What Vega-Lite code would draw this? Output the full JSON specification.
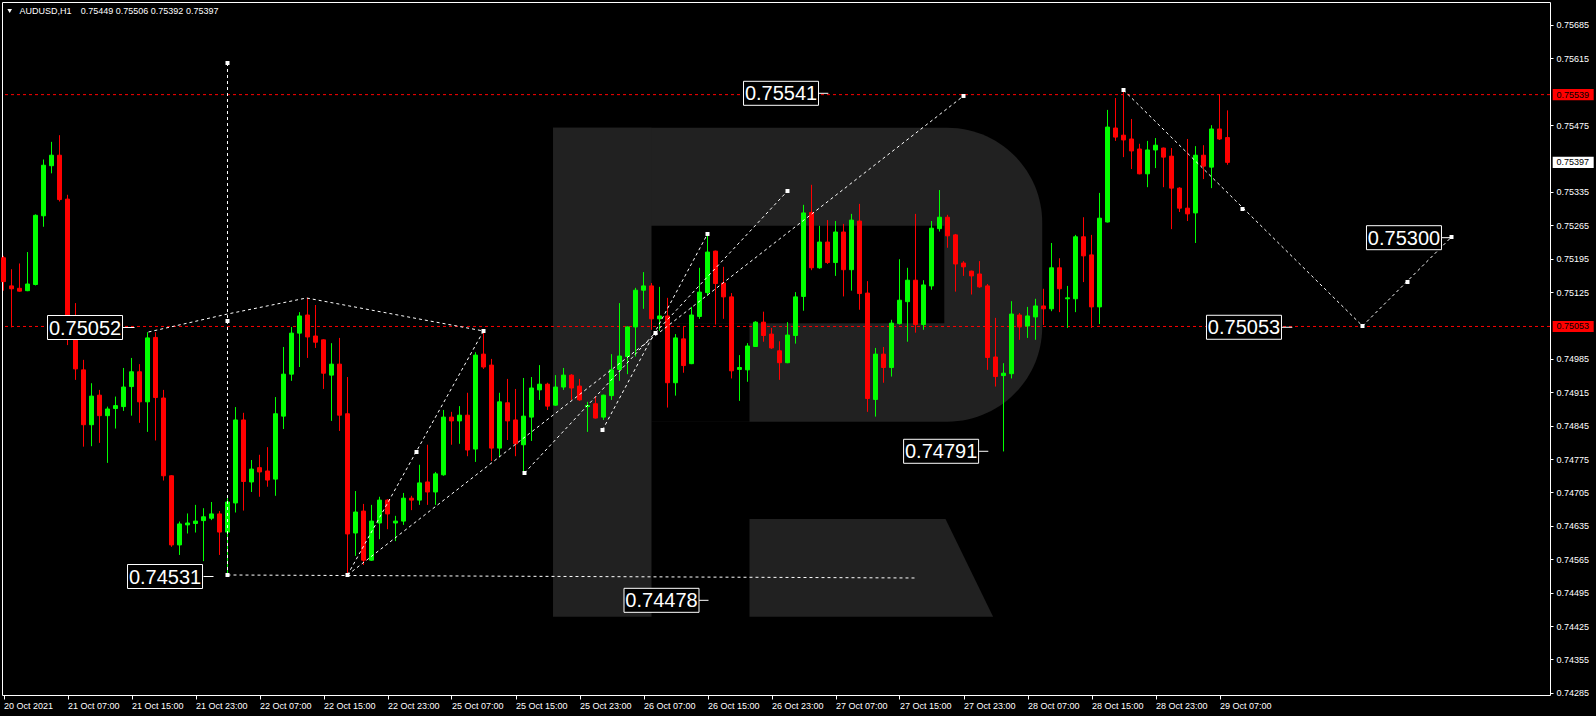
{
"$schema": "https://vega.github.io/schema/vega-lite/v6.json",
"width": 1548, "height": 693,
"autosize": {"type": "none"},
"padding": {"left": 2, "top": 2, "right": 46, "bottom": 21},
"background": "#000000",
"config": {"view": {"stroke": "#ffffff", "strokeWidth": 1, "fill": "#000000"}, "axis": {"grid": false, "domain": false}, "scale": {"continuousPadding": 0}},
"datasets": {
"candles": [
{"i":0,"o":0.75197,"h":0.75201,"l":0.75128,"c":0.75147},
{"i":1,"o":0.75138,"h":0.75173,"l":0.75051,"c":0.75132},
{"i":2,"o":0.75133,"h":0.75185,"l":0.75126,"c":0.75127},
{"i":3,"o":0.75128,"h":0.75209,"l":0.75127,"c":0.75142},
{"i":4,"o":0.75141,"h":0.75288,"l":0.75139,"c":0.75286},
{"i":5,"o":0.75285,"h":0.75403,"l":0.75262,"c":0.75391},
{"i":6,"o":0.75390,"h":0.75440,"l":0.75374,"c":0.75412},
{"i":7,"o":0.75412,"h":0.75454,"l":0.75315,"c":0.75319},
{"i":8,"o":0.75320,"h":0.75329,"l":0.75014,"c":0.75069},
{"i":9,"o":0.75071,"h":0.75102,"l":0.74941,"c":0.74964},
{"i":10,"o":0.74962,"h":0.74983,"l":0.74801,"c":0.74847},
{"i":11,"o":0.74847,"h":0.74934,"l":0.74802,"c":0.74907},
{"i":12,"o":0.74909,"h":0.74920,"l":0.74809,"c":0.74866},
{"i":13,"o":0.74866,"h":0.74885,"l":0.74767,"c":0.74880},
{"i":14,"o":0.74881,"h":0.74906,"l":0.74839,"c":0.74887},
{"i":15,"o":0.74885,"h":0.74966,"l":0.74876,"c":0.74926},
{"i":16,"o":0.74927,"h":0.74987,"l":0.74866,"c":0.74958},
{"i":17,"o":0.74958,"h":0.74974,"l":0.74851,"c":0.74895},
{"i":18,"o":0.74895,"h":0.75041,"l":0.74832,"c":0.75029},
{"i":19,"o":0.75030,"h":0.75041,"l":0.74814,"c":0.74904},
{"i":20,"o":0.74903,"h":0.74920,"l":0.74730,"c":0.74740},
{"i":21,"o":0.74740,"h":0.74741,"l":0.74591,"c":0.74595},
{"i":22,"o":0.74595,"h":0.74644,"l":0.74574,"c":0.74639},
{"i":23,"o":0.74637,"h":0.74661,"l":0.74619,"c":0.74641},
{"i":24,"o":0.74640,"h":0.74679,"l":0.74621,"c":0.74645},
{"i":25,"o":0.74646,"h":0.74672,"l":0.74561,"c":0.74654},
{"i":26,"o":0.74651,"h":0.74685,"l":0.74647,"c":0.74660},
{"i":27,"o":0.74660,"h":0.74666,"l":0.74574,"c":0.74622},
{"i":28,"o":0.74622,"h":0.74693,"l":0.74531,"c":0.74685},
{"i":29,"o":0.74683,"h":0.74884,"l":0.74663,"c":0.74857},
{"i":30,"o":0.74857,"h":0.74872,"l":0.74667,"c":0.74728},
{"i":31,"o":0.74727,"h":0.74773,"l":0.74706,"c":0.74754},
{"i":32,"o":0.74757,"h":0.74784,"l":0.74696,"c":0.74748},
{"i":33,"o":0.74750,"h":0.74800,"l":0.74717,"c":0.74731},
{"i":34,"o":0.74733,"h":0.74905,"l":0.74698,"c":0.74870},
{"i":35,"o":0.74865,"h":0.75010,"l":0.74838,"c":0.74953},
{"i":36,"o":0.74953,"h":0.75052,"l":0.74939,"c":0.75039},
{"i":37,"o":0.75039,"h":0.75083,"l":0.74968,"c":0.75075},
{"i":38,"o":0.75077,"h":0.75113,"l":0.74987,"c":0.75031},
{"i":39,"o":0.75033,"h":0.75098,"l":0.75008,"c":0.75020},
{"i":40,"o":0.75025,"h":0.75026,"l":0.74922,"c":0.74955},
{"i":41,"o":0.74951,"h":0.75018,"l":0.74855,"c":0.74974},
{"i":42,"o":0.74974,"h":0.75029,"l":0.74834,"c":0.74867},
{"i":43,"o":0.74870,"h":0.74947,"l":0.74534,"c":0.74618},
{"i":44,"o":0.74620,"h":0.74708,"l":0.74572,"c":0.74664},
{"i":45,"o":0.74666,"h":0.74681,"l":0.74553,"c":0.74563},
{"i":46,"o":0.74563,"h":0.74679,"l":0.74562,"c":0.74645},
{"i":47,"o":0.74641,"h":0.74696,"l":0.74607,"c":0.74689},
{"i":48,"o":0.74689,"h":0.74691,"l":0.74628,"c":0.74660},
{"i":49,"o":0.74641,"h":0.74656,"l":0.74603,"c":0.74645},
{"i":50,"o":0.74645,"h":0.74704,"l":0.74637,"c":0.74693},
{"i":51,"o":0.74693,"h":0.74698,"l":0.74668,"c":0.74689},
{"i":52,"o":0.74689,"h":0.74763,"l":0.74679,"c":0.74725},
{"i":53,"o":0.74727,"h":0.74805,"l":0.74679,"c":0.74706},
{"i":54,"o":0.74706,"h":0.74748,"l":0.74679,"c":0.74744},
{"i":55,"o":0.74742,"h":0.74878,"l":0.74740,"c":0.74863},
{"i":56,"o":0.74863,"h":0.74874,"l":0.74805,"c":0.74855},
{"i":57,"o":0.74855,"h":0.74886,"l":0.74807,"c":0.74867},
{"i":58,"o":0.74867,"h":0.74914,"l":0.74781,"c":0.74794},
{"i":59,"o":0.74796,"h":0.74999,"l":0.74769,"c":0.74993},
{"i":60,"o":0.74995,"h":0.75041,"l":0.74964,"c":0.74968},
{"i":61,"o":0.74972,"h":0.74985,"l":0.74771,"c":0.74798},
{"i":62,"o":0.74798,"h":0.74914,"l":0.74779,"c":0.74895},
{"i":63,"o":0.74893,"h":0.74943,"l":0.74815,"c":0.74855},
{"i":64,"o":0.74857,"h":0.74922,"l":0.74781,"c":0.74807},
{"i":65,"o":0.74805,"h":0.74945,"l":0.74748,"c":0.74865},
{"i":66,"o":0.74863,"h":0.74947,"l":0.74813,"c":0.74924},
{"i":67,"o":0.74920,"h":0.74972,"l":0.74899,"c":0.74932},
{"i":68,"o":0.74932,"h":0.74935,"l":0.74878,"c":0.74886},
{"i":69,"o":0.74888,"h":0.74951,"l":0.74887,"c":0.74926},
{"i":70,"o":0.74926,"h":0.74966,"l":0.74920,"c":0.74951},
{"i":71,"o":0.74951,"h":0.74953,"l":0.74899,"c":0.74924},
{"i":72,"o":0.74928,"h":0.74943,"l":0.74897,"c":0.74899},
{"i":73,"o":0.74885,"h":0.74895,"l":0.74832,"c":0.74887},
{"i":74,"o":0.74891,"h":0.74907,"l":0.74860,"c":0.74861},
{"i":75,"o":0.74863,"h":0.74910,"l":0.74857,"c":0.74909},
{"i":76,"o":0.74908,"h":0.74995,"l":0.74899,"c":0.74962},
{"i":77,"o":0.74963,"h":0.75102,"l":0.74939,"c":0.74991},
{"i":78,"o":0.74990,"h":0.75053,"l":0.74953,"c":0.75052},
{"i":79,"o":0.75052,"h":0.75134,"l":0.74990,"c":0.75129},
{"i":80,"o":0.75129,"h":0.75167,"l":0.75090,"c":0.75138},
{"i":81,"o":0.75138,"h":0.75144,"l":0.75046,"c":0.75069},
{"i":82,"o":0.75069,"h":0.75136,"l":0.75044,"c":0.75075},
{"i":83,"o":0.75075,"h":0.75113,"l":0.74883,"c":0.74935},
{"i":84,"o":0.74935,"h":0.75037,"l":0.74908,"c":0.75029},
{"i":85,"o":0.75027,"h":0.75052,"l":0.74956,"c":0.74971},
{"i":86,"o":0.74975,"h":0.75094,"l":0.74974,"c":0.75077},
{"i":87,"o":0.75074,"h":0.75176,"l":0.75069,"c":0.75125},
{"i":88,"o":0.75124,"h":0.75243,"l":0.75117,"c":0.75209},
{"i":89,"o":0.75211,"h":0.75212,"l":0.75057,"c":0.75143},
{"i":90,"o":0.75144,"h":0.75178,"l":0.75069,"c":0.75115},
{"i":91,"o":0.75115,"h":0.75123,"l":0.74944,"c":0.74960},
{"i":92,"o":0.74963,"h":0.74993,"l":0.74897,"c":0.74967},
{"i":93,"o":0.74962,"h":0.75018,"l":0.74937,"c":0.75012},
{"i":94,"o":0.75011,"h":0.75064,"l":0.75010,"c":0.75062},
{"i":95,"o":0.75062,"h":0.75084,"l":0.75021,"c":0.75034},
{"i":96,"o":0.75037,"h":0.75050,"l":0.75006,"c":0.75008},
{"i":97,"o":0.75002,"h":0.75022,"l":0.74941,"c":0.74977},
{"i":98,"o":0.74977,"h":0.75062,"l":0.74976,"c":0.75035},
{"i":99,"o":0.75034,"h":0.75125,"l":0.75017,"c":0.75115},
{"i":100,"o":0.75116,"h":0.75308,"l":0.75086,"c":0.75291},
{"i":101,"o":0.75292,"h":0.75350,"l":0.75171,"c":0.75176},
{"i":102,"o":0.75176,"h":0.75264,"l":0.75174,"c":0.75230},
{"i":103,"o":0.75230,"h":0.75276,"l":0.75184,"c":0.75187},
{"i":104,"o":0.75187,"h":0.75274,"l":0.75159,"c":0.75251},
{"i":105,"o":0.75251,"h":0.75268,"l":0.75116,"c":0.75172},
{"i":106,"o":0.75172,"h":0.75289,"l":0.75128,"c":0.75276},
{"i":107,"o":0.75274,"h":0.75310,"l":0.75088,"c":0.75122},
{"i":108,"o":0.75123,"h":0.75148,"l":0.74874,"c":0.74902},
{"i":109,"o":0.74900,"h":0.75008,"l":0.74864,"c":0.74995},
{"i":110,"o":0.74995,"h":0.75010,"l":0.74935,"c":0.74967},
{"i":111,"o":0.74967,"h":0.75067,"l":0.74948,"c":0.75060},
{"i":112,"o":0.75059,"h":0.75194,"l":0.75057,"c":0.75108},
{"i":113,"o":0.75105,"h":0.75176,"l":0.75021,"c":0.75150},
{"i":114,"o":0.75150,"h":0.75289,"l":0.75040,"c":0.75057},
{"i":115,"o":0.75057,"h":0.75150,"l":0.75046,"c":0.75140},
{"i":116,"o":0.75138,"h":0.75274,"l":0.75130,"c":0.75259},
{"i":117,"o":0.75258,"h":0.75339,"l":0.75252,"c":0.75282},
{"i":118,"o":0.75282,"h":0.75287,"l":0.75218,"c":0.75243},
{"i":119,"o":0.75245,"h":0.75247,"l":0.75126,"c":0.75184},
{"i":120,"o":0.75186,"h":0.75190,"l":0.75159,"c":0.75178},
{"i":121,"o":0.75169,"h":0.75170,"l":0.75120,"c":0.75159},
{"i":122,"o":0.75163,"h":0.75190,"l":0.75134,"c":0.75136},
{"i":123,"o":0.75138,"h":0.75142,"l":0.74962,"c":0.74988},
{"i":124,"o":0.74989,"h":0.75071,"l":0.74927,"c":0.74948},
{"i":125,"o":0.74950,"h":0.74976,"l":0.74791,"c":0.74955},
{"i":126,"o":0.74954,"h":0.75106,"l":0.74944,"c":0.75079},
{"i":127,"o":0.75077,"h":0.75081,"l":0.75025,"c":0.75052},
{"i":128,"o":0.75054,"h":0.75094,"l":0.75029,"c":0.75075},
{"i":129,"o":0.75073,"h":0.75111,"l":0.75025,"c":0.75096},
{"i":130,"o":0.75096,"h":0.75132,"l":0.75056,"c":0.75090},
{"i":131,"o":0.75090,"h":0.75228,"l":0.75085,"c":0.75176},
{"i":132,"o":0.75176,"h":0.75196,"l":0.75083,"c":0.75132},
{"i":133,"o":0.75111,"h":0.75138,"l":0.75050,"c":0.75113},
{"i":134,"o":0.75111,"h":0.75245,"l":0.75083,"c":0.75241},
{"i":135,"o":0.75241,"h":0.75282,"l":0.75146,"c":0.75201},
{"i":136,"o":0.75203,"h":0.75245,"l":0.75050,"c":0.75094},
{"i":137,"o":0.75094,"h":0.75333,"l":0.75058,"c":0.75280},
{"i":138,"o":0.75272,"h":0.75507,"l":0.75271,"c":0.75471},
{"i":139,"o":0.75469,"h":0.75532,"l":0.75442,"c":0.75450},
{"i":140,"o":0.75454,"h":0.75545,"l":0.75408,"c":0.75444},
{"i":141,"o":0.75446,"h":0.75488,"l":0.75383,"c":0.75421},
{"i":142,"o":0.75425,"h":0.75436,"l":0.75372,"c":0.75373},
{"i":143,"o":0.75373,"h":0.75442,"l":0.75345,"c":0.75423},
{"i":144,"o":0.75423,"h":0.75448,"l":0.75385,"c":0.75433},
{"i":145,"o":0.75427,"h":0.75428,"l":0.75345,"c":0.75408},
{"i":146,"o":0.75410,"h":0.75427,"l":0.75257,"c":0.75343},
{"i":147,"o":0.75343,"h":0.75345,"l":0.75293,"c":0.75301},
{"i":148,"o":0.75301,"h":0.75446,"l":0.75274,"c":0.75289},
{"i":149,"o":0.75291,"h":0.75431,"l":0.75228,"c":0.75412},
{"i":150,"o":0.75412,"h":0.75433,"l":0.75362,"c":0.75389},
{"i":151,"o":0.75387,"h":0.75475,"l":0.75343,"c":0.75467},
{"i":152,"o":0.75467,"h":0.75540,"l":0.75444,"c":0.75446},
{"i":153,"o":0.75449,"h":0.75506,"l":0.75392,"c":0.75397}
],
"rects": [
{"k":"bowl","x":68.69,"x2":129.84,"y":0.754697,"y2":0.748534},
{"k":"stem","x":68.69,"x2":81.0,"y":0.754697,"y2":0.744445},
{"k":"hole","x":81.0,"x2":117.6,"y":0.752642,"y2":0.750596},
{"k":"hole","x":81.0,"x2":93.25,"y":0.750596,"y2":0.748534}
],
"wmLeg": [{"y":0.746494,"x":93.25,"x2":117.75},{"y":0.744445,"x":93.25,"x2":123.7}],
"redLines": [{"y":0.75539},{"y":0.75053}],
"dash": [
{"s":1,"k":0,"x":18.125,"y":0.750414},{"s":1,"k":1,"x":28,"y":0.750791},{"s":1,"k":2,"x":37.875,"y":0.751127},{"s":1,"k":3,"x":60,"y":0.750435},
{"s":2,"k":0,"x":28,"y":0.756053},{"s":2,"k":1,"x":28,"y":0.74532},
{"s":3,"k":0,"x":28,"y":0.74532},{"s":3,"k":1,"x":113.875,"y":0.745257},
{"s":4,"k":0,"x":43,"y":0.74532},{"s":4,"k":1,"x":60,"y":0.750435},
{"s":5,"k":0,"x":43,"y":0.74532},{"s":5,"k":1,"x":120,"y":0.755362},
{"s":6,"k":0,"x":74.875,"y":0.74836},{"s":6,"k":1,"x":88,"y":0.752469},
{"s":7,"k":0,"x":65.125,"y":0.747458},{"s":7,"k":1,"x":98,"y":0.75337},
{"s":8,"k":0,"x":140,"y":0.755487},{"s":8,"k":1,"x":169.875,"y":0.75054},{"s":8,"k":2,"x":181,"y":0.752406}
],
"markers": [
{"x":28,"y":0.756053},{"x":28,"y":0.750645},{"x":28,"y":0.74532},{"x":43,"y":0.74532},{"x":51.625,"y":0.747898},
{"x":60,"y":0.750435},{"x":65.125,"y":0.747458},{"x":74.875,"y":0.74836},{"x":81.5,"y":0.750393},{"x":88,"y":0.752469},
{"x":98,"y":0.75337},{"x":120,"y":0.755362},{"x":140,"y":0.755487},{"x":154.875,"y":0.752993},{"x":169.875,"y":0.75054},
{"x":175.5,"y":0.751462},{"x":181,"y":0.752406}
],
"labels": [
{"t":"0.75052","x":10.19,"y":0.750508,"tx1":14.875,"tx2":16.375},
{"t":"0.74531","x":20.19,"y":0.745288,"tx1":25.0,"tx2":26.25},
{"t":"0.74478","x":82.25,"y":0.744789,"tx1":86.875,"tx2":88.125},
{"t":"0.74791","x":117.2,"y":0.747913,"tx1":121.8,"tx2":123.1},
{"t":"0.75541","x":97.19,"y":0.755418,"tx1":101.8,"tx2":103.1},
{"t":"0.75053","x":155.06,"y":0.750513,"tx1":159.6,"tx2":161.1},
{"t":"0.75300","x":175.06,"y":0.752391,"tx1":179.75,"tx2":181.1}
],
"tags": [{"t":"0.75539","y":0.75539,"cur":false},{"t":"0.75053","y":0.75053,"cur":false},{"t":"0.75397","y":0.75397,"cur":true}],
"hdr": [{"t":"AUDUSD,H1","x":2.0,"y":0.757143},{"t":"0.75449 0.75506 0.75392 0.75397","x":9.66,"y":0.757143}],
"hdrTri": [{"x":0.775,"y":0.757143}]
},
"layer": [
{"data": {"name": "rects"},
 "mark": {"type": "rect", "cornerRadiusTopRight": {"expr": "datum.k == 'bowl' ? 95 : 0"}, "cornerRadiusBottomRight": {"expr": "datum.k == 'bowl' ? 95 : 0"}},
 "encoding": {
  "x": {"field": "x", "type": "quantitative", "scale": {"domain": [-0.1875, 193.3125], "nice": false, "zero": false, "padding": 0},
   "axis": {"title": null, "orient": "bottom", "values": [0,8,16,24,32,40,48,56,64,72,80,88,96,104,112,120,128,136,144,152],
    "labelExpr": "['20 Oct 2021','21 Oct 07:00','21 Oct 15:00','21 Oct 23:00','22 Oct 07:00','22 Oct 15:00','22 Oct 23:00','25 Oct 07:00','25 Oct 15:00','25 Oct 23:00','26 Oct 07:00','26 Oct 15:00','26 Oct 23:00','27 Oct 07:00','27 Oct 15:00','27 Oct 23:00','28 Oct 07:00','28 Oct 15:00','28 Oct 23:00','29 Oct 07:00'][round(datum.value/8)]",
    "labelAlign": "left", "labelBaseline": "top", "labelPadding": 2, "labelColor": "#ffffff", "labelFont": "Liberation Sans", "labelFontSize": 9,
    "tickColor": "#ffffff", "tickSize": 4, "labelOverlap": false, "labelFlush": false, "labelBound": false, "grid": false, "domain": false, "zindex": 1}},
  "x2": {"field": "x2"},
  "y": {"field": "y", "type": "quantitative", "scale": {"domain": [0.742804, 0.757332], "nice": false, "zero": false, "padding": 0},
   "axis": {"title": null, "orient": "right", "values": [0.74285,0.74355,0.74425,0.74495,0.74565,0.74635,0.74705,0.74775,0.74845,0.74915,0.74985,0.75125,0.75195,0.75265,0.75335,0.75475,0.75615,0.75685],
    "format": ".5f", "labelColor": "#ffffff", "labelFont": "Liberation Sans", "labelFontSize": 9, "labelPadding": 3, "tickColor": "#ffffff", "tickSize": 3,
    "labelOverlap": false, "labelFlush": false, "labelBound": false, "grid": false, "domain": false, "zindex": 0}},
  "y2": {"field": "y2"},
  "fill": {"condition": {"test": "datum.k == 'hole'", "value": "#000000"}, "value": "#212121"}}},
{"data": {"name": "wmLeg"},
 "mark": {"type": "area", "color": "#212121", "orient": "horizontal", "opacity": 1},
 "encoding": {
  "y": {"field": "y", "type": "quantitative"},
  "x": {"field": "x", "type": "quantitative"},
  "x2": {"field": "x2"}}},
{"data": {"name": "redLines"},
 "mark": {"type": "rule", "color": "#ff0000", "strokeDash": [3, 3], "strokeWidth": 1},
 "encoding": {
  "y": {"field": "y", "type": "quantitative"}}},
{"data": {"name": "candles"},
 "mark": {"type": "rule", "strokeWidth": 1},
 "encoding": {
  "x": {"field": "i", "type": "quantitative"},
  "y": {"field": "l", "type": "quantitative"},
  "y2": {"field": "h"},
  "stroke": {"condition": {"test": "datum.c >= datum.o", "value": "#00ff00"}, "value": "#ff0000"}}},
{"data": {"name": "candles"},
 "mark": {"type": "bar", "width": 4, "strokeWidth": 1},
 "encoding": {
  "x": {"field": "i", "type": "quantitative"},
  "y": {"field": "o", "type": "quantitative"},
  "y2": {"field": "c"},
  "fill": {"condition": {"test": "datum.c >= datum.o", "value": "#00ff00"}, "value": "#ff0000"},
  "stroke": {"condition": {"test": "datum.c >= datum.o", "value": "#00ff00"}, "value": "#ff0000"}}},
{"data": {"name": "dash"},
 "mark": {"type": "line", "color": "#ffffff", "strokeWidth": 1, "strokeDash": [3, 3]},
 "encoding": {
  "x": {"field": "x", "type": "quantitative"},
  "y": {"field": "y", "type": "quantitative"},
  "detail": {"field": "s", "type": "nominal"},
  "order": {"field": "k", "type": "quantitative"}}},
{"data": {"name": "markers"},
 "mark": {"type": "point", "shape": "square", "size": 16, "filled": true, "color": "#ffffff", "opacity": 1},
 "encoding": {
  "x": {"field": "x", "type": "quantitative"},
  "y": {"field": "y", "type": "quantitative"}}},
{"data": {"name": "labels"},
 "mark": {"type": "rule", "color": "#ffffff", "strokeWidth": 1},
 "encoding": {
  "x": {"field": "tx1", "type": "quantitative"},
  "x2": {"field": "tx2"},
  "y": {"field": "y", "type": "quantitative"}}},
{"data": {"name": "labels"},
 "mark": {"type": "point", "shape": "M-1,-0.32H1V0.32H-1Z", "size": 5625, "fill": "#000000", "stroke": "#ffffff", "strokeWidth": 1, "filled": false, "opacity": 1, "fillOpacity": 1},
 "encoding": {
  "x": {"field": "x", "type": "quantitative"},
  "y": {"field": "y", "type": "quantitative"}}},
{"data": {"name": "labels"},
 "mark": {"type": "text", "color": "#ffffff", "font": "Liberation Sans", "fontSize": 20, "align": "center", "baseline": "middle", "dy": 1},
 "encoding": {
  "x": {"field": "x", "type": "quantitative"},
  "y": {"field": "y", "type": "quantitative"},
  "text": {"field": "t"}}},
{"data": {"name": "tags"},
 "mark": {"type": "point", "shape": "M-1,-0.27H1V0.27H-1Z", "size": 1681, "filled": true, "opacity": 1},
 "encoding": {
  "x": {"datum": 196.21, "type": "quantitative"},
  "y": {"field": "y", "type": "quantitative"},
  "color": {"condition": {"test": "datum.cur", "value": "#ffffff"}, "value": "#ff0000"}}},
{"data": {"name": "tags"},
 "mark": {"type": "text", "color": "#000000", "font": "Liberation Sans", "fontSize": 9, "align": "left", "baseline": "middle"},
 "encoding": {
  "x": {"datum": 194.125, "type": "quantitative"},
  "y": {"field": "y", "type": "quantitative"},
  "text": {"field": "t"}}},
{"data": {"name": "hdr"},
 "mark": {"type": "text", "color": "#ffffff", "font": "Liberation Sans", "fontSize": 9, "align": "left", "baseline": "middle"},
 "encoding": {
  "x": {"field": "x", "type": "quantitative"},
  "y": {"field": "y", "type": "quantitative"},
  "text": {"field": "t"}}},
{"data": {"name": "hdrTri"},
 "mark": {"type": "point", "shape": "triangle-down", "size": 22, "filled": true, "color": "#ffffff", "opacity": 1},
 "encoding": {
  "x": {"field": "x", "type": "quantitative"},
  "y": {"field": "y", "type": "quantitative"}}}
]
}
